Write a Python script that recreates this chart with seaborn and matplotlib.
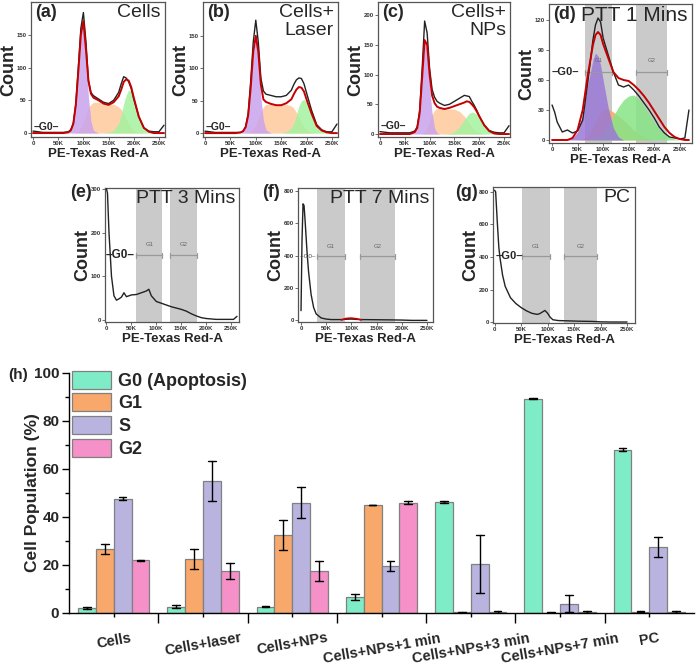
import numpy as np
import pandas as pd
import matplotlib
matplotlib.use("Agg")
import matplotlib.pyplot as plt
import seaborn as sns

# ------------------------------------------------------------------
# (h) bar chart data
# ------------------------------------------------------------------
treatments = ["Cells", "Cells+laser", "Cells+NPs", "Cells+NPs+1 min",
              "Cells+NPs+3 min", "Cells+NPs+7 min", "PC"]
phases = ["G0 (Apoptosis)", "G1", "S", "G2"]
g0_mean = [2.0, 2.7, 2.7, 6.7, 46.2, 89.2, 68.0]
g0_err = [0.3, 0.8, 0.3, 1.2, 0.3, 0.2, 0.7]
g1_mean = [26.5, 22.5, 32.5, 45.0, 0.3, 0.2, 0.5]
g1_err = [2.1, 4.2, 6.2, 0.2, 0.2, 0.1, 0.2]
s_mean = [47.7, 55.0, 46.0, 19.5, 20.5, 3.8, 27.5]
s_err = [0.5, 8.5, 6.3, 2.2, 12.0, 3.5, 4.2]
g2_mean = [22.0, 17.5, 17.5, 46.0, 0.5, 0.5, 0.5]
g2_err = [0.2, 3.5, 4.2, 0.7, 0.3, 0.3, 0.3]
phase_colors = ["#7fecc8", "#f9a86c", "#b8b3df", "#f590c9"]

# ------------------------------------------------------------------
# flow cytometry histograms (PE-Texas Red-A in thousands, counts)
# ------------------------------------------------------------------
fl_grid = [0, 10, 20, 30, 40, 50, 60, 70, 75, 80, 85, 90, 95, 100, 105, 110, 115,
           120, 130, 140, 150, 160, 170, 175, 180, 185, 190, 195, 200, 210, 220,
           230, 240, 250, 260]

a_black = [3, 2, 1, 1, 1, 1, 1, 2, 5, 15, 45, 100, 160, 184, 140, 80, 62,
           57, 52, 47, 45, 50, 62, 75, 86, 84, 78, 68, 52, 25, 8, 3, 2, 2, 12]
a_red = [0, 0, 0, 0, 0, 0, 0, 1, 4, 14, 43, 95, 150, 171, 128, 80, 60,
         54, 50, 45, 43, 47, 56, 66, 78, 82, 80, 70, 54, 25, 8, 2, 0, 0, 0]
a_g1 = [0, 0, 0, 0, 0, 0, 0, 0, 4, 14, 43, 95, 148, 168, 118, 55, 18,
        4, 0, 0, 0, 0, 0, 0, 0, 0, 0, 0, 0, 0, 0, 0, 0, 0, 0]
a_s = [0, 0, 0, 0, 0, 0, 0, 0, 0, 0, 1, 3, 8, 15, 28, 38, 44,
       47, 47, 45, 44, 44, 40, 36, 30, 22, 14, 8, 4, 1, 0, 0, 0, 0, 0]
a_g2 = [0, 0, 0, 0, 0, 0, 0, 0, 0, 0, 0, 0, 0, 0, 0, 0, 0,
        0, 0, 0, 1, 4, 15, 28, 45, 58, 66, 64, 50, 24, 7, 1, 0, 0, 0]

b_black = [3, 2, 1, 1, 1, 1, 1, 1, 3, 10, 30, 80, 140, 174, 140, 85, 65,
           60, 58, 56, 56, 58, 66, 75, 82, 85, 84, 76, 62, 35, 13, 5, 2, 2, 14]
b_red = [0, 0, 0, 0, 0, 0, 0, 1, 3, 9, 27, 70, 125, 150, 125, 75, 52,
         48, 45, 43, 43, 46, 52, 60, 67, 71, 70, 64, 52, 30, 11, 4, 1, 0, 0]
b_g1 = [0, 0, 0, 0, 0, 0, 0, 0, 3, 9, 27, 70, 122, 146, 115, 55, 20,
        5, 0, 0, 0, 0, 0, 0, 0, 0, 0, 0, 0, 0, 0, 0, 0, 0, 0]
b_s = [0, 0, 0, 0, 0, 0, 0, 0, 0, 0, 0, 2, 6, 12, 22, 33, 40,
       44, 45, 44, 44, 44, 42, 38, 32, 25, 16, 10, 5, 1, 0, 0, 0, 0, 0]
b_g2 = [0, 0, 0, 0, 0, 0, 0, 0, 0, 0, 0, 0, 0, 0, 0, 0, 0,
        0, 0, 0, 0, 2, 8, 15, 28, 42, 50, 52, 48, 30, 12, 3, 0, 0, 0]

c_black = [4, 3, 2, 2, 2, 2, 2, 5, 12, 40, 110, 190, 170, 110, 75, 62, 55,
           52, 48, 50, 55, 60, 65, 64, 63, 55, 48, 40, 30, 15, 6, 3, 2, 2, 14]
c_red = [0, 0, 0, 0, 0, 0, 0, 3, 10, 35, 95, 158, 150, 100, 65, 52, 46,
         44, 42, 44, 47, 50, 53, 55, 54, 50, 45, 38, 30, 15, 5, 1, 0, 0, 0]
c_g1 = [0, 0, 0, 0, 0, 0, 0, 2, 9, 33, 92, 155, 140, 80, 35, 10, 2,
        0, 0, 0, 0, 0, 0, 0, 0, 0, 0, 0, 0, 0, 0, 0, 0, 0, 0]
c_s = [0, 0, 0, 0, 0, 0, 0, 0, 0, 0, 0, 3, 10, 22, 33, 40, 43,
       43, 42, 42, 42, 38, 30, 24, 18, 12, 7, 4, 2, 0, 0, 0, 0, 0, 0]
c_g2 = [0, 0, 0, 0, 0, 0, 0, 0, 0, 0, 0, 0, 0, 0, 0, 0, 0,
        0, 0, 1, 4, 12, 24, 30, 35, 37, 36, 33, 27, 14, 5, 1, 0, 0, 0]

d_grid = [0, 5, 10, 20, 30, 40, 50, 60, 70, 80, 85, 90, 95, 100, 110, 120, 130,
          140, 150, 160, 170, 180, 190, 200, 210, 220, 230, 240, 250, 260, 268]
d_black = [35, 28, 18, 8, 10, 7, 9, 20, 58, 100, 115, 122, 118, 102, 85, 68, 55,
           53, 55, 50, 44, 37, 30, 22, 13, 7, 3, 2, 1, 2, 30]
d_red = [0, 0, 0, 0, 0, 2, 10, 30, 65, 95, 105, 108, 105, 96, 82, 68, 62,
         60, 59, 55, 50, 44, 37, 29, 21, 13, 7, 3, 1, 0, 0]
d_g1 = [0, 0, 0, 0, 0, 2, 8, 25, 55, 80, 87, 84, 75, 60, 32, 12, 3,
        0, 0, 0, 0, 0, 0, 0, 0, 0, 0, 0, 0, 0, 0]
d_s = [0, 0, 0, 0, 0, 0, 0, 1, 4, 12, 18, 23, 27, 30, 31, 28, 24,
       20, 15, 10, 6, 3, 1, 0, 0, 0, 0, 0, 0, 0, 0]
d_g2 = [0, 0, 0, 0, 0, 0, 0, 0, 0, 1, 2, 3, 5, 7, 14, 24, 33,
        40, 44, 45, 41, 34, 26, 18, 11, 6, 3, 1, 0, 0, 0]

e_grid = [0, 2, 5, 10, 15, 20, 25, 30, 35, 40, 50, 60, 70, 80, 85, 90, 100, 110,
          120, 130, 140, 150, 160, 170, 180, 190, 200, 210, 220, 240, 255, 262]
e_black = [300, 290, 200, 100, 55, 45, 48, 52, 62, 53, 57, 58, 62, 66, 70, 55, 42, 38,
           34, 30, 27, 24, 20, 14, 9, 5, 3, 2, 1, 1, 1, 8]

f_grid = [0, 2, 4, 6, 8, 10, 12, 15, 20, 25, 30, 40, 50, 60, 80, 90, 100, 110,
          120, 150, 180, 200, 220, 250]
f_black = [60, 500, 720, 710, 620, 520, 420, 300, 160, 80, 40, 15, 8, 5, 5, 7, 8, 6,
           5, 4, 3, 2, 0, 0]
f_red_grid = [80, 90, 100, 110, 120]
f_red = [3, 12, 14, 10, 3]

g_grid = [0, 2, 5, 8, 10, 15, 20, 30, 40, 50, 60, 70, 80, 85, 90, 95, 100, 105,
          110, 120, 140, 160, 180, 190, 200, 220, 250]
g_black = [810, 800, 620, 460, 400, 290, 220, 150, 115, 90, 70, 55, 48, 52, 62, 72, 55, 30,
           15, 10, 8, 6, 5, 4, 2, 1, 1]

# gates (thousands)
d_bands = [(64, 118), (164, 226)]
e_bands = [(60, 112), (128, 182)]
f_bands = [(32, 88), (118, 186)]
g_bands = [(51, 104), (131, 193)]

# ------------------------------------------------------------------
sns.set_theme(style="white")
plt.rcParams["font.family"] = ["Liberation Sans", "DejaVu Sans"]

fig = plt.figure(figsize=(7.0, 6.64), dpi=100)
H = 664.0
W = 700.0


def box(x0, y0, x1, y1):
    return [x0 / W, 1 - y1 / H, (x1 - x0) / W, (y1 - y0) / H]


PURPLE = "#c9a2ee"
ORANGE = "#ffc99b"
GREEN = "#a4f3a0"
RED = "#c40000"


def style_hist(ax, xlim, ylim, yticks, xticks=(0, 50, 100, 150, 200, 250)):
    ax.set_xlim(*xlim)
    ax.set_ylim(*ylim)
    ax.set_xticks(list(xticks))
    ax.set_xticklabels(["0" if t == 0 else f"{t}K" for t in xticks])
    ax.set_yticks(yticks)
    ax.tick_params(axis="both", labelsize=4.3, length=2, width=0.5, pad=1,
                   colors="#333333", left=True, bottom=True)
    for lab in ax.get_xticklabels() + ax.get_yticklabels():
        lab.set_fontweight("bold")
    for sp in ax.spines.values():
        sp.set_color("#555555")
        sp.set_linewidth(0.9)
    ax.set_xlabel("PE-Texas Red-A", fontsize=9.5, fontweight="bold", labelpad=1)
    ax.set_ylabel("Count", fontsize=13, fontweight="bold")
    wpx = ax.get_position().width * W
    ax.yaxis.set_label_coords(-13.5 / wpx, 0.5)
    ax.set_facecolor("white")


def draw_hist(ax, x, black, red=None, g1=None, s=None, g2=None, dark=False):
    p = "#9a78d6" if dark else PURPLE
    o = "#f0a868" if dark else ORANGE
    gr = "#86e486" if dark else GREEN
    if s is not None:
        ax.fill_between(x, 0, s, color=o, alpha=0.85, lw=0, zorder=1)
    if g2 is not None:
        ax.fill_between(x, 0, g2, color=gr, alpha=0.85, lw=0, zorder=1)
    if g1 is not None:
        ax.fill_between(x, 0, g1, color=p, alpha=0.85, lw=0, zorder=1)
    sns.lineplot(x=x, y=black, ax=ax, color="#222222", lw=1.0, estimator=None, zorder=3)
    if red is not None:
        sns.lineplot(x=x, y=red, ax=ax, color=RED, lw=1.4, estimator=None, zorder=4)


def gates(ax, bands, gy, ly, cap):
    for (lo, hi), name in zip(bands, ["G1", "G2"]):
        ax.axvspan(lo, hi, color="#cacaca", lw=0, zorder=0)
        ax.plot([lo, hi], [gy, gy], color="#999999", lw=0.9, zorder=2)
        ax.plot([lo, lo], [gy - cap, gy + cap], color="#999999", lw=0.9, zorder=2)
        ax.plot([hi, hi], [gy - cap, gy + cap], color="#999999", lw=0.9, zorder=2)
        ax.text((lo + hi) / 2, ly, name, fontsize=4.3, color="#666666",
                ha="center", va="center")


def label(ax, txt, x=0.03, y=0.985, fs=13):
    ax.text(x, y, txt, transform=ax.transAxes, fontsize=fs, fontweight="bold",
            ha="left", va="top", zorder=6)


def title(ax, txt, fs=14):
    ax.text(0.97, 0.985, txt, transform=ax.transAxes, fontsize=fs, ha="right",
            va="top", linespacing=1.05, zorder=6)


# (a)
ax = fig.add_axes(box(31, 2, 165, 137))
draw_hist(ax, fl_grid, a_black, a_red, a_g1, a_s, a_g2)
style_hist(ax, (-4, 262), (-6, 200), [0, 50, 100, 150])
label(ax, "(a)")
title(ax, "Cells")
ax.text(2, 10, "\u2013G0\u2013", fontsize=7.5, fontweight="bold", va="center")

# (b)
ax = fig.add_axes(box(203, 2, 338, 137))
draw_hist(ax, fl_grid, b_black, b_red, b_g1, b_s, b_g2)
style_hist(ax, (-4, 262), (-6, 202), [0, 50, 100, 150])
label(ax, "(b)")
title(ax, "Cells+\nLaser")
ax.text(2, 10, "\u2013G0\u2013", fontsize=7.5, fontweight="bold", va="center")

# (c)
ax = fig.add_axes(box(378, 2, 510, 137))
draw_hist(ax, fl_grid, c_black, c_red, c_g1, c_s, c_g2)
style_hist(ax, (-4, 262), (-5, 222), [0, 50, 100, 150, 200])
label(ax, "(c)")
title(ax, "Cells+\nNPs")
ax.text(2, 14, "\u2013G0\u2013", fontsize=7.5, fontweight="bold", va="center")

# (d)
ax = fig.add_axes(box(549, 4, 692, 143))
gates(ax, d_bands, 68, 79, 2.5)
draw_hist(ax, d_grid, d_black, d_red, d_g1, d_s, d_g2, dark=True)
style_hist(ax, (-6, 274), (-3, 136), [0, 30, 60, 90, 120])
label(ax, "(d)")
title(ax, "PTT 1 Mins", fs=15)
ax.text(0, 68, "\u2013G0\u2013", fontsize=8, fontweight="bold", va="center")

# (e)
ax = fig.add_axes(box(105, 188, 239, 322))
gates(ax, e_bands, 148, 172, 6)
draw_hist(ax, e_grid, e_black)
style_hist(ax, (-3, 266), (-5, 302), [0, 100, 200, 300])
title(ax, "PTT 3 Mins")
ax.text(-2, 148, "\u2013G0\u2013", fontsize=8.5, fontweight="bold", va="center")
fig.text(70 / W, 1 - 184 / H, "(e)", fontsize=13, fontweight="bold", va="top")

# (f)
ax = fig.add_axes(box(298, 188, 433, 322))
gates(ax, f_bands, 395, 455, 16)
draw_hist(ax, f_grid, f_black)
sns.lineplot(x=f_red_grid, y=f_red, ax=ax, color=RED, lw=1.2, estimator=None, zorder=4)
style_hist(ax, (-6, 262), (-10, 818), [0, 200, 400, 600, 800])
title(ax, "PTT 7 Mins")
ax.text(-2, 395, "\u2013G0\u2013", fontsize=4.5, color="#444444", va="center")
fig.text(262 / W, 1 - 184 / H, "(f)", fontsize=13, fontweight="bold", va="top")

# (g)
ax = fig.add_axes(box(493, 187, 635, 323))
gates(ax, g_bands, 405, 467, 16)
draw_hist(ax, g_grid, g_black)
style_hist(ax, (-3, 265), (-5, 830), [0, 200, 400, 600, 800])
title(ax, "PC")
ax.text(2, 405, "\u2013G0\u2013", fontsize=8, fontweight="bold", va="center")
fig.text(455 / W, 1 - 184 / H, "(g)", fontsize=13, fontweight="bold", va="top")

# (h) bar chart
rows = []
for ph, means, errs in zip(phases, [g0_mean, g1_mean, s_mean, g2_mean],
                           [g0_err, g1_err, s_err, g2_err]):
    for t, m, e in zip(treatments, means, errs):
        rows.append({"Treatment": t, "Phase": ph, "Value": m - e})
        rows.append({"Treatment": t, "Phase": ph, "Value": m + e})
df = pd.DataFrame(rows)

axh = fig.add_axes(box(69, 373, 694, 613))
sns.barplot(data=df, x="Treatment", y="Value", hue="Phase", order=treatments,
            hue_order=phases, palette=phase_colors, saturation=1,
            errorbar=("pi", 100), capsize=0.35,
            err_kws={"color": "black", "linewidth": 1.0},
            edgecolor="#808080", linewidth=0.9, width=0.8, ax=axh)
axh.set_xlim(-0.5, 6.5)
axh.set_ylim(0, 100)
axh.set_yticks([0, 20, 40, 60, 80, 100])
axh.set_yticks([10, 30, 50, 70, 90], minor=True)
axh.set_xticks([0.5, 1.5, 2.5, 3.5, 4.5, 5.5], minor=True)
axh.set_xticks(range(len(treatments)))
axh.set_xticklabels(treatments, rotation=10, fontsize=10.5, fontweight="bold")
for lab in axh.get_yticklabels():
    lab.set_fontweight("bold")
axh.tick_params(axis="y", which="major", labelsize=11, length=5, width=1,
                direction="out", left=True, color="black", pad=2)
axh.tick_params(axis="y", which="minor", length=3, width=1, left=True, color="black")
axh.tick_params(axis="x", which="major", length=3, width=1, bottom=True,
                color="black", pad=10)
axh.tick_params(axis="x", which="minor", length=7, width=1, bottom=True, color="black")
axh.set_xlabel("")
axh.set_ylabel("Cell Population (%)", fontsize=12.5, fontweight="bold")
axh.yaxis.set_label_coords(-29.0 / 625.0, 0.5)
sns.despine(ax=axh)
for sp in ["left", "bottom"]:
    axh.spines[sp].set_color("black")
    axh.spines[sp].set_linewidth(1.0)
axh.legend(loc="upper left", bbox_to_anchor=(0.004, 1.01), frameon=False,
           prop={"size": 13, "weight": "bold"}, handlelength=2.2,
           handleheight=1.15, labelspacing=0.2, handletextpad=0.4,
           borderaxespad=0.0, borderpad=0.0)
fig.text(8 / W, 1 - 368 / H, "(h)", fontsize=11, fontweight="bold", va="top")

fig.savefig("out.png", dpi=100, facecolor="white")
